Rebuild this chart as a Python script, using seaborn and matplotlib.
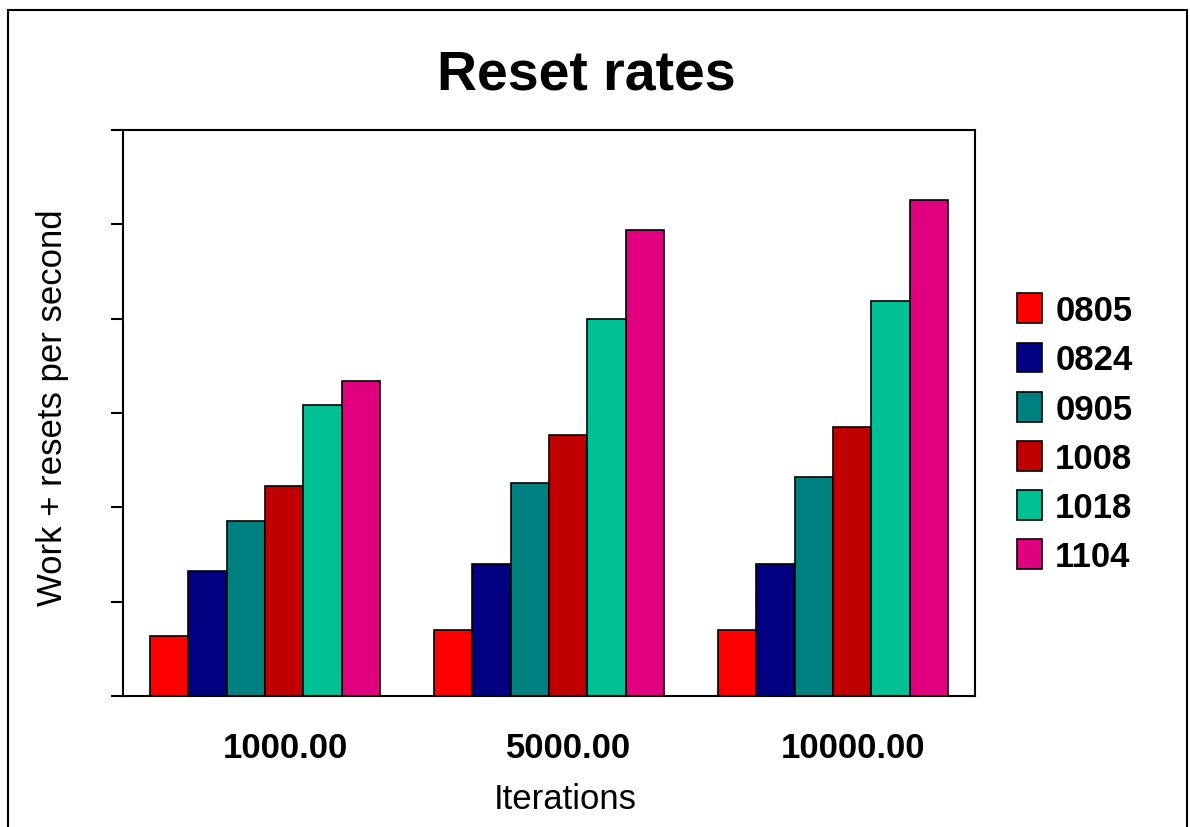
import numpy as np
import pandas as pd
import seaborn as sns
import matplotlib.pyplot as plt
from matplotlib.patches import Rectangle
from matplotlib.transforms import ScaledTranslation

# data (y axis has no labels, values in tick units)
iterations = ["1000.00", "5000.00", "10000.00"]
versions = ["0805", "0824", "0905", "1008", "1018", "1104"]
v0805 = [0.64, 0.70, 0.70]
v0824 = [1.32, 1.40, 1.40]
v0905 = [1.85, 2.26, 2.32]
v1008 = [2.23, 2.77, 2.85]
v1018 = [3.09, 4.00, 4.19]
v1104 = [3.34, 4.94, 5.26]
colors = ["#FF0000", "#000080", "#008080", "#C00000", "#00C096", "#E0007F"]

series = [v0805, v0824, v0905, v1008, v1018, v1104]
rows = []
for ver, vals in zip(versions, series):
    for it, v in zip(iterations, vals):
        rows.append({"Iterations": it, "version": ver, "rate": v})
df = pd.DataFrame(rows)

sns.set_theme(style="white")
plt.rcParams['font.family'] = ['Liberation Sans', 'DejaVu Sans']
plt.rcParams['text.color'] = 'black'
plt.rcParams['axes.labelcolor'] = 'black'
plt.rcParams['xtick.color'] = 'black'
plt.rcParams['ytick.color'] = 'black'

fig = plt.figure(figsize=(11.9, 8.28), dpi=100)
ax = fig.add_axes([0.1034, 0.1582, 0.7159, 0.6836])

sns.barplot(data=df, x="Iterations", y="rate", hue="version", order=iterations,
            hue_order=versions, palette=colors, saturation=1, edgecolor="black",
            linewidth=1.2, width=0.81, ax=ax)

ax.set_xlim(-0.5, 2.5)
ax.set_ylim(0, 6)
ax.set_yticks(range(7))
ax.set_yticklabels([])
ax.tick_params(axis="y", direction="out", length=9, width=1.5, left=True, color="black")
ax.tick_params(axis="x", length=0, pad=25, labelsize=25)
# category labels sit a little right of the bar groups
shift = ScaledTranslation(0.2, 0, fig.dpi_scale_trans)
for lab in ax.get_xticklabels():
    lab.set_fontweight("bold")
    lab.set_transform(lab.get_transform() + shift)
for s in ax.spines.values():
    s.set_color("black")
    s.set_linewidth(1.5)

ax.set_xlabel("Iterations", fontsize=25)
ax.xaxis.set_label_coords(0.519, -0.152)
ax.set_ylabel("Work + resets per second", fontsize=25)
ax.yaxis.set_label_coords(-0.064, 0.512)
fig.text(0.4924, 0.909, "Reset rates", ha="center", va="center",
         fontsize=40, fontweight="bold")

ax.legend(loc="upper left", bbox_to_anchor=(0.8546, 0.6445), bbox_transform=fig.transFigure,
          frameon=False, prop={"weight": "bold", "size": 25}, borderpad=0, borderaxespad=0,
          handlelength=0.72, handleheight=0.95, handletextpad=0.38, labelspacing=0.44)

# outer frame around the whole chart
fig.patches.append(Rectangle((0.0067, -0.02), 0.991, 1.0067, transform=fig.transFigure,
                             fill=False, edgecolor="black", linewidth=1.5))

fig.savefig("out.png", dpi=100)
